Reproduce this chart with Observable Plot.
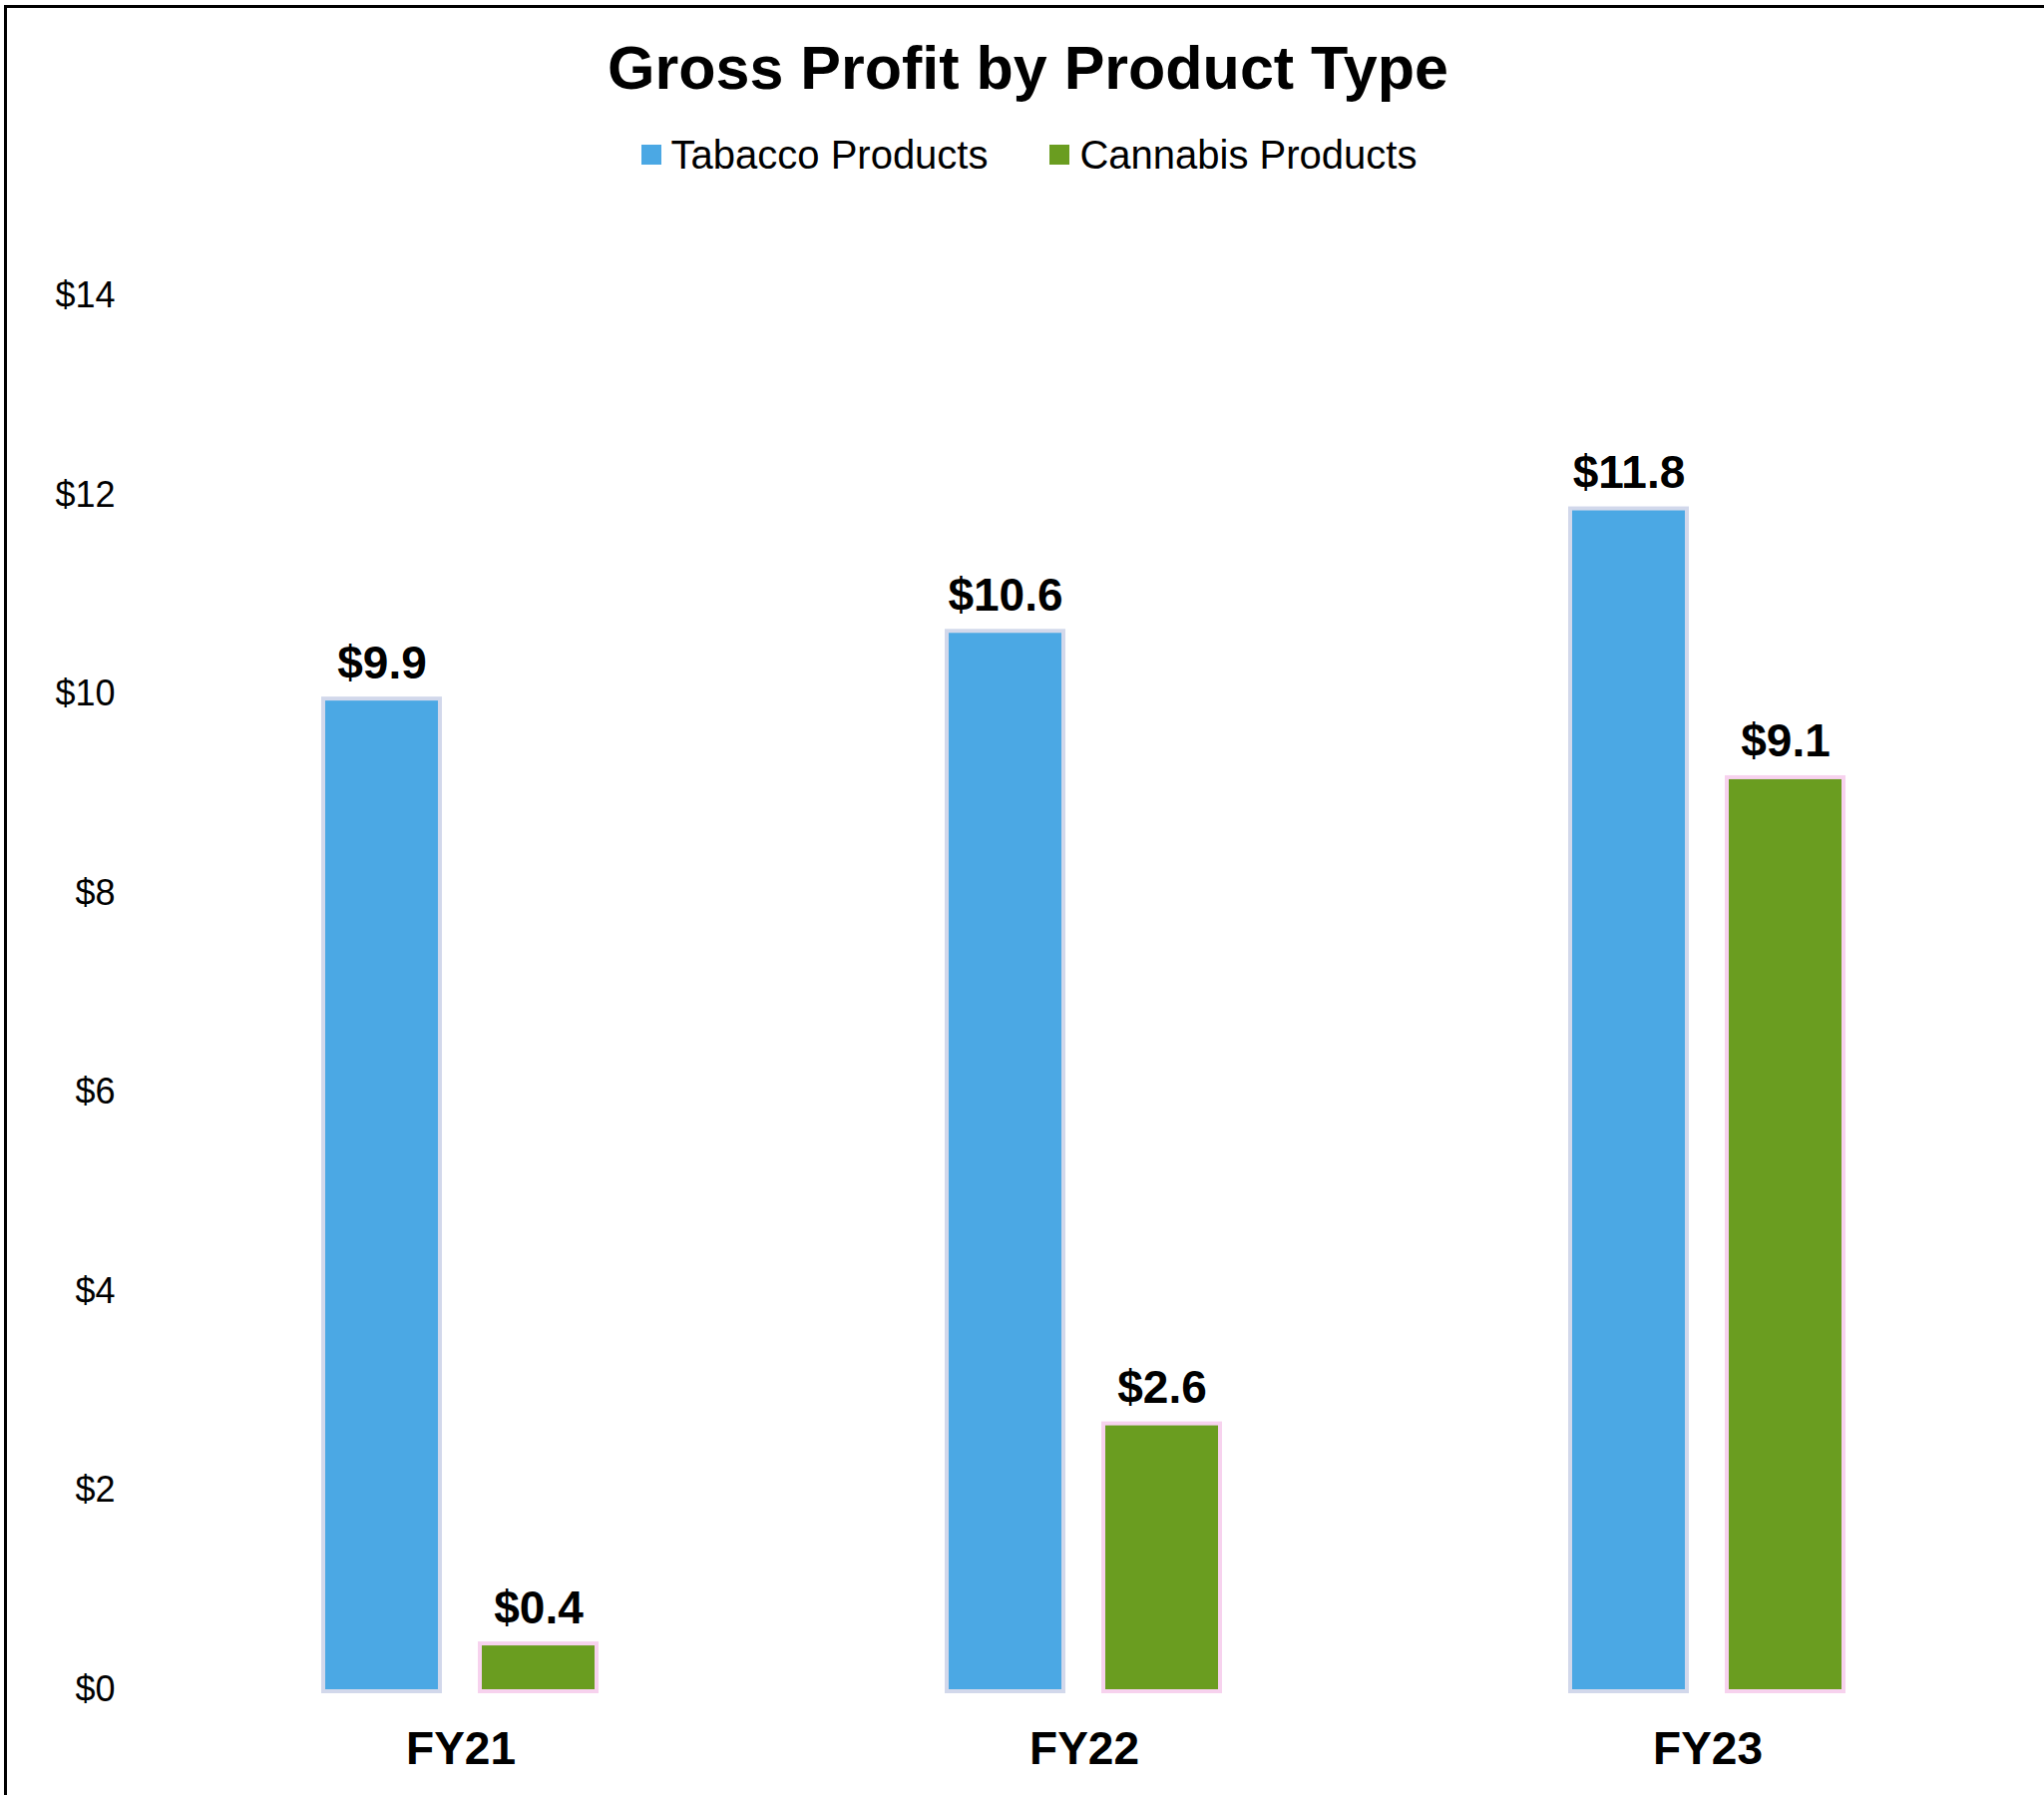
<!DOCTYPE html>
<html>
<head>
<meta charset="utf-8">
<script src="https://cdn.jsdelivr.net/npm/d3@7"></script>
<script src="https://cdn.jsdelivr.net/npm/@observablehq/plot@0.6"></script>
<style>
  html, body { margin: 0; padding: 0; background: #fff; }
  body { width: 2049px; height: 1799px; position: relative; overflow: hidden; font-family: "Liberation Sans", Arial, sans-serif; }
  #frameTop { position: absolute; left: 4px; top: 5px; width: 2045px; height: 0; border-top: 3px solid #000; }
  #frameLeft { position: absolute; left: 4px; top: 5px; width: 0; height: 1794px; border-left: 3px solid #000; }
  #title { position: absolute; left: 12px; width: 2037px; top: 30px; text-align: center; font-size: 61px; font-weight: bold; line-height: 76px; color: #000; }
  #legend { position: absolute; left: 14px; width: 2035px; top: 131px; height: 48px; display: flex; justify-content: center; align-items: center; gap: 62px; font-size: 40px; color: #000; }
  .item { display: flex; align-items: center; }
  .sw { width: 20px; height: 20px; margin-right: 10px; }
  #chart { position: absolute; left: 0; top: 200px; }
</style>
</head>
<body>
<div id="frameTop"></div>
<div id="frameLeft"></div>
<div id="title"></div>
<div id="legend"></div>
<div id="chart"></div>
<script>
const titleText = "Gross Profit by Product Type";
const years = ["FY21", "FY22", "FY23"];
const series = ["Tabacco Products", "Cannabis Products"];
const tabacco = [9.93, 10.61, 11.84];
const cannabis = [0.44, 2.65, 9.14];
const yTicks = [0, 2, 4, 6, 8, 10, 12, 14];
const colors = ["#4BA8E4", "#6A9D20"];
const halos = ["#c3cbe4", "#f4c3e8"];

document.getElementById("title").textContent = titleText;
const legend = document.getElementById("legend");
series.forEach((s, i) => {
  const item = document.createElement("div");
  item.className = "item";
  const sw = document.createElement("div");
  sw.className = "sw";
  sw.style.background = colors[i];
  const t = document.createElement("span");
  t.textContent = s;
  item.appendChild(sw);
  item.appendChild(t);
  legend.appendChild(item);
});

const data = [];
years.forEach((y, i) => {
  data.push({year: y, type: series[0], value: tabacco[i]});
  data.push({year: y, type: series[1], value: cannabis[i]});
});

const chart = Plot.plot({
  width: 2049,
  height: 1599,
  marginLeft: 148,
  marginRight: 24,
  marginTop: 96,
  marginBottom: 106,
  style: {fontFamily: '"Liberation Sans", Arial, sans-serif', background: "transparent", color: "#000"},
  fx: {domain: years, padding: 0, label: null},
  x: {domain: series, paddingInner: 0.28, paddingOuter: 1.13, axis: null},
  y: {domain: [0, 14], label: null},
  color: {domain: series, range: colors},
  marks: [
    Plot.barY(data, {fx: "year", x: "type", y: "value", fill: d => halos[series.indexOf(d.type)], inset: -4, fillOpacity: 0.75}),
    Plot.barY(data, {fx: "year", x: "type", y: "value", fill: "type"}),
    Plot.text(data, {fx: "year", x: "type", y: "value", text: d => "$" + d.value.toFixed(1), lineAnchor: "bottom", dy: -23, fontSize: 46, fontWeight: "bold", fill: "#000"}),
    Plot.axisY({ticks: yTicks, tickFormat: d => "$" + d, tickSize: 0, tickPadding: 34, fontSize: 36, label: null}),
    Plot.axisFx({anchor: "bottom", tickSize: 0, tickPadding: 42, fontSize: 46, fontWeight: "bold", label: null})
  ]
});
document.getElementById("chart").appendChild(chart);
</script>
</body>
</html>
